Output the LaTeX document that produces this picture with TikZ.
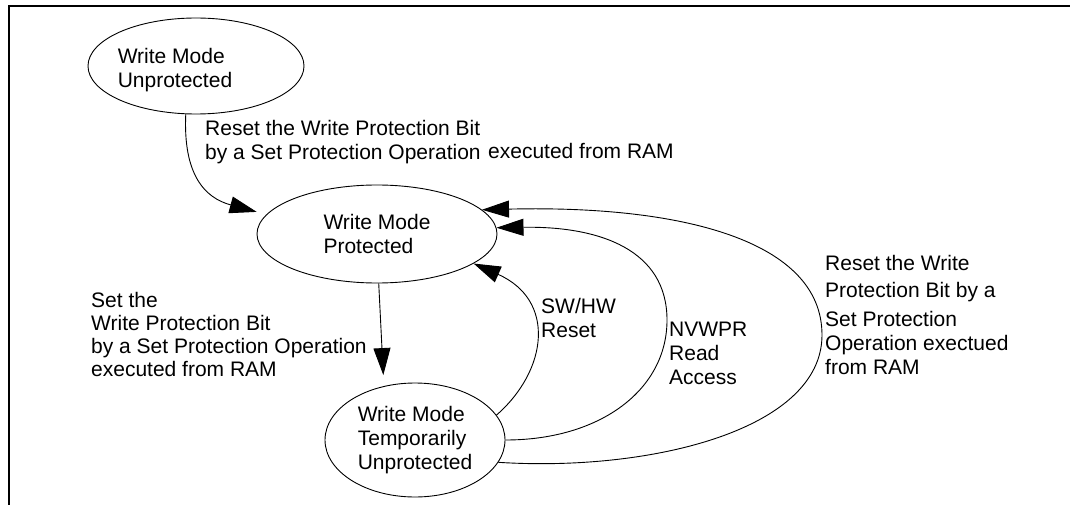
\documentclass[tikz,border=0pt]{standalone}
\usepackage{fontspec}
\setmainfont{Liberation Sans}
\usetikzlibrary{arrows.meta,shapes.geometric}

\begin{document}
\begin{tikzpicture}[x=1pt,y=-1pt,font=\fontsize{21}{24}\selectfont,
  st/.style={draw,ellipse,line width=0.9pt,inner sep=0pt,align=left},
  lbl/.style={align=left,inner sep=0pt,anchor=north west},
  arr/.style={-{Triangle[length=27pt,width=17pt]},line width=0.9pt}]
  \useasboundingbox (0,0) rectangle (1070,505);
  % frame
  \draw[line width=2.5pt] (8,6) -- (1070,6);
  \draw[line width=2.5pt] (9,6) -- (9,505);
  % states
  \node[st,minimum width=216pt,minimum height=96pt](u) at (196,66){};
  \node[align=left,inner sep=0pt](ut) at (175,70){Write Mode\\Unprotected};
  \node[st,minimum width=240pt,minimum height=98pt](p) at (377,234){Write Mode\\Protected};
  \node[st,minimum width=180pt,minimum height=114pt](c) at (415,440){Write Mode\\Temporarily\\Unprotected};
  % transitions
  \draw[arr,shorten >=10pt] (u.258) .. controls (183,175) and (205,198) .. (p.170);
  \draw[arr,shorten >=11pt] (p.-88) -- (c.120);
  \draw[arr] (c.17) .. controls (548,370) and (556,300) .. (p.-17);
  \draw[arr] (c.east) .. controls (600,440) and (667,390) .. (667,320)
    .. controls (667,250) and (600,226) .. (p.3);
  \draw[arr] (c.-15) .. controls (650,472) and (822,430) .. (822,335)
    .. controls (822,240) and (680,205) .. (p.13);
  % labels
  \node[lbl](l1) at (205,120){Reset the Write Protection Bit\\by a Set Protection Operation};
  \node[anchor=base west,inner sep=0pt](l1b) at (488,159){executed from RAM};
  \node[lbl,font=\fontsize{21}{23}\selectfont](l2) at (91,292){Set the\\Write Protection Bit\\by a Set Protection Operation\\executed from RAM};
  \node[lbl](l3) at (541,298){SW/HW\\Reset};
  \node[lbl](l4) at (669,322){NVWPR\\Read\\Access};
  \node[lbl](l5) at (825,255){Reset the Write\\[3pt]Protection Bit by a\\[5pt]Set Protection\\Operation exectued\\from RAM};
\end{tikzpicture}
\end{document}
